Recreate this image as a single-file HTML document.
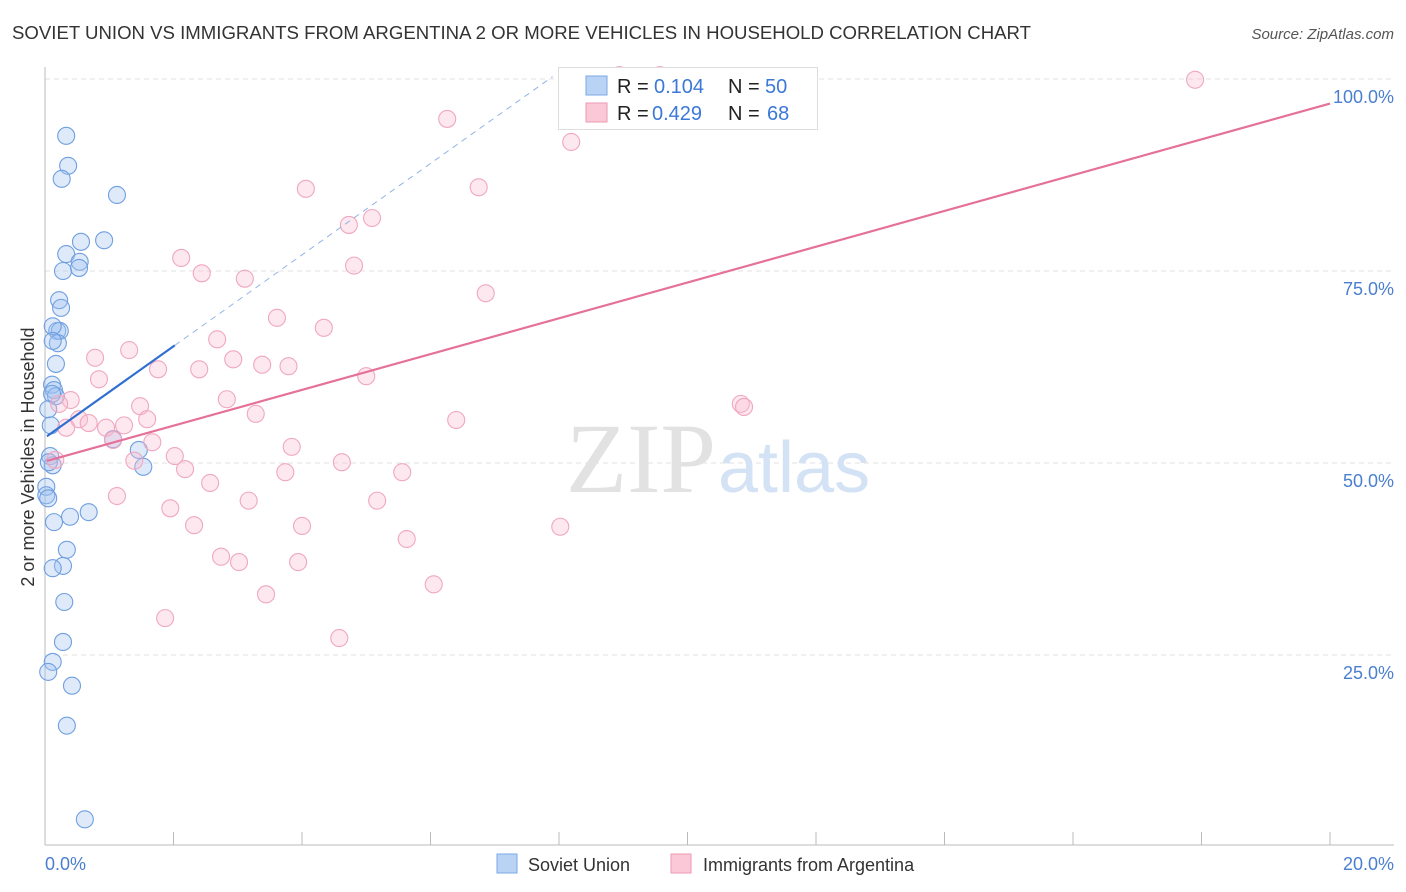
<!DOCTYPE html>
<html><head><meta charset="utf-8"><style>
body{margin:0;background:#fff;font-family:"Liberation Sans",sans-serif;}
#wrap{position:relative;width:1406px;height:892px;overflow:hidden;}
</style></head><body><div id="wrap">
<svg id="svg" width="1406" height="892" xmlns="http://www.w3.org/2000/svg">
<text x="12" y="39" font-size="18" fill="#333" textLength="1019" lengthAdjust="spacingAndGlyphs">SOVIET UNION VS IMMIGRANTS FROM ARGENTINA 2 OR MORE VEHICLES IN HOUSEHOLD CORRELATION CHART</text>
<text x="1394" y="39" font-size="15" fill="#555" font-style="italic" text-anchor="end">Source: ZipAtlas.com</text>
<text x="0" y="0" transform="translate(34,457) rotate(-90)" font-size="18" fill="#333" text-anchor="middle">2 or more Vehicles in Household</text>
<g id="grid"></g>
<text x="716" y="492" font-size="100" font-family="Liberation Serif,serif" fill="#e2e2e2" text-anchor="end">ZIP</text>
<text x="718" y="492" font-size="72" fill="#d3e2f4">atlas</text>
<g id="marks"></g>
<g id="lines"></g>
<g>
<rect x="558.5" y="67.5" width="259" height="62" fill="#fff" stroke="#ddd"/>
<rect x="586" y="76" width="21" height="19" fill="#b9d3f5" stroke="#7aa8e6"/>
<rect x="586" y="103" width="21" height="19" fill="#fbc8d7" stroke="#ee9ab3"/>
<g font-size="20" fill="#222">
<text x="617" y="93">R =</text>
<text x="654" y="93" fill="#3b78d8">0.104</text>
<text x="728" y="93">N =</text>
<text x="765" y="93" fill="#3b78d8">50</text>
<text x="617" y="120">R =</text>
<text x="652" y="120" fill="#3b78d8">0.429</text>
<text x="728" y="120">N =</text>
<text x="767" y="120" fill="#3b78d8">68</text>
</g>
</g>
<text x="45" y="870" font-size="18" fill="#4a7fd0">0.0%</text>
<text x="1394" y="870" font-size="18" fill="#4a7fd0" text-anchor="end">20.0%</text>
<rect x="497" y="854" width="20" height="19" fill="#b9d3f5" stroke="#7aa8e6"/>
<text x="528" y="871" font-size="18" fill="#333">Soviet Union</text>
<rect x="671" y="854" width="20" height="19" fill="#fbc8d7" stroke="#ee9ab3"/>
<text x="703" y="871" font-size="18" fill="#333">Immigrants from Argentina</text>
</svg>
<script>
const blueX=[0.33,0.36,0.26,1.12,0.56,0.92,0.33,0.54,0.28,0.53,0.22,0.25,0.19,0.23,0.12,0.20,0.12,0.17,0.11,0.14,0.17,0.11,0.05,0.09,1.06,1.46,1.53,0.08,0.12,0.06,0.02,0.02,0.05,0.39,0.68,0.14,0.34,0.28,0.12,0.30,0.28,0.12,0.05,0.42,0.34,0.62];
const blueY=[92.6,88.7,87.0,84.9,78.8,79.0,77.2,76.2,75.0,75.4,71.2,70.2,67.2,67.2,67.8,65.6,65.9,62.9,60.2,59.5,58.7,59.0,57.0,54.9,53.1,51.7,49.5,50.9,49.7,50.1,46.9,45.8,45.4,43.0,43.6,42.3,38.7,36.6,36.3,31.9,26.7,24.1,22.8,21.0,15.8,3.6];
const pinkX=[17.9,8.94,9.57,6.26,8.19,4.06,6.75,5.09,4.73,2.12,4.81,2.44,3.11,6.86,3.61,4.34,2.68,1.31,0.78,2.93,3.38,3.79,1.76,2.40,5.00,0.84,0.40,2.83,0.22,1.48,10.83,10.88,3.28,1.59,6.40,0.53,0.68,1.23,0.33,0.95,1.06,1.67,3.84,2.02,1.39,4.62,0.16,2.18,3.74,5.56,2.57,1.12,3.17,5.17,1.95,2.32,4.00,8.02,5.63,2.74,3.02,3.94,3.44,6.05,1.87,4.58];
const pinkY=[99.9,100.5,100.5,94.8,91.8,85.7,85.9,81.9,81.0,76.7,75.7,74.7,74.0,72.1,68.9,67.6,66.1,64.7,63.7,63.5,62.8,62.6,62.2,62.2,61.3,60.9,58.2,58.3,57.7,57.4,57.7,57.3,56.4,55.7,55.6,55.7,55.2,54.9,54.6,54.6,53.0,52.7,52.1,50.9,50.3,50.1,50.4,49.2,48.8,48.8,47.4,45.7,45.1,45.1,44.1,41.9,41.8,41.7,40.1,37.8,37.1,37.1,32.9,34.2,29.8,27.2];
const blueTrend=[53.3,5.95];
const pinkTrend=[50.2,2.33];
const yTicks=[25,50,75,100];
const xTickVals=[0,2,4,6,8,10,12,14,16,18,20];
const NS='http://www.w3.org/2000/svg';
const sx=v=>45+v/20*1285, sy=v=>847-v*7.68;
function mk(t,a,p){const e=document.createElementNS(NS,t);for(const k in a)e.setAttribute(k,a[k]);p.appendChild(e);return e;}
const grid=document.getElementById('grid'),marks=document.getElementById('marks'),lines=document.getElementById('lines');
yTicks.forEach(v=>{
 const l=mk('line',{x1:45,x2:1394,y1:sy(v),y2:sy(v),stroke:'#e2e2e2','stroke-dasharray':'5,4'},grid);
 
 
 const t=mk('text',{x:1394,y:sy(v)+24,'font-size':18,fill:'#4a7fd0','text-anchor':'end'},grid);
 t.textContent=v.toFixed(1)+'%';
 
 
});
mk('line',{x1:45,x2:45,y1:67,y2:845,stroke:'#bbb'},grid);
mk('line',{x1:45,x2:1394,y1:845,y2:845,stroke:'#bbb'},grid);
xTickVals.forEach(v=>{
 const l=mk('line',{x1:sx(v),x2:sx(v),y1:832,y2:845,stroke:'#bbb'},grid);
 
 
});
blueX.forEach((x,i)=>{
 const c=mk('circle',{cx:sx(x),cy:sy(blueY[i]),r:8.5,fill:'rgba(160,196,240,0.35)',stroke:'#6f9fe0','stroke-width':1.1},marks);
 
 
});
pinkX.forEach((x,i)=>{
 const c=mk('circle',{cx:sx(x),cy:sy(pinkY[i]),r:8.5,fill:'rgba(248,190,208,0.35)',stroke:'#f0a7bf','stroke-width':1.1},marks);
 
 
});
const bt=x=>blueTrend[0]+blueTrend[1]*x, pt=x=>pinkTrend[0]+pinkTrend[1]*x;
const b1=mk('line',{x1:sx(0.03),y1:sy(bt(0.03)),x2:sx(2.02),y2:sy(bt(2.02)),stroke:'#2f6fd0','stroke-width':2.2},lines);


const b2=mk('line',{x1:sx(2.02),y1:sy(bt(2.02)),x2:sx(7.9),y2:sy(bt(7.9)),stroke:'#8fb3e6','stroke-width':1,'stroke-dasharray':'6,5'},lines);


const p1=mk('line',{x1:sx(0.03),y1:sy(pt(0.03)),x2:sx(20),y2:sy(pt(20)),stroke:'#e5709a','stroke-width':2.2},lines);


</script>
</div></body></html>
